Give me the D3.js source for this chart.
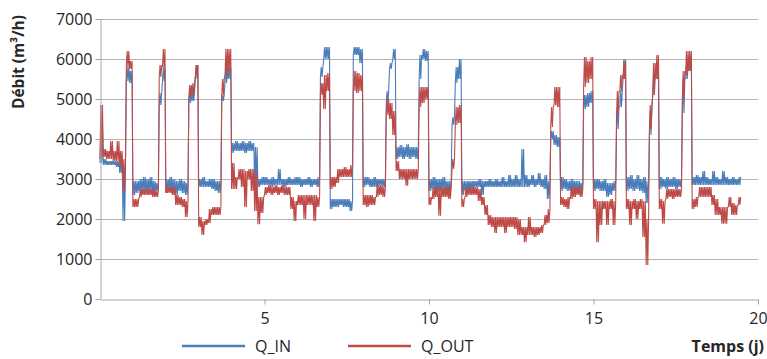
<!DOCTYPE html>
<html><head><meta charset="utf-8">
<script src="https://cdn.jsdelivr.net/npm/d3@7"></script>
<style>body{margin:0;background:#fff}svg{display:block}</style>
</head><body>
<svg id="chart" width="767" height="359"></svg>
<script>
// time bins (days): bin i starts at binStart + i*binStep; each bin stores min/max flow
const binStart = 0, binStep = 0.1;
const inLo = [
3400,3350,3350,3350,3350,3300,3150,1950,5450,5400,
2600,2650,2700,2700,2650,2700,2650,2700,4850,5450,
2650,2700,2650,2600,2700,2650,2600,4900,4950,5500,
2800,2800,2800,2800,2750,2700,2650,4950,5400,5500,
3650,3700,3700,3700,3650,3700,3700,2850,2800,2850,
2850,2850,2800,2850,2850,2850,2800,2850,2850,2850,
2850,2800,2850,2850,2800,2850,2800,5550,6000,6000,
2250,2300,2300,2350,2300,2300,2200,6100,6100,5900,
2800,2850,2800,2800,2800,2850,2800,4900,5750,6000,
3500,3550,3500,3550,3500,3550,3500,5500,6000,5950,
2700,2750,2700,2700,2750,2700,2650,4350,5400,5500,
2600,2700,2750,2750,2800,2800,2600,2800,2800,2800,
2800,2800,2800,2800,2800,2800,2800,2800,2800,2800,
2800,2850,2800,2850,2800,2750,2500,4000,3850,3800,
2700,2750,2700,2700,2700,2650,2700,4750,4800,4900,
2700,2750,2700,2700,2550,2600,2700,4250,4800,5500,
2700,2750,2700,2750,2700,2650,2400,4100,5100,5500,
2750,2800,2750,2800,2800,2750,2800,4650,5500,5700,
2850,2850,2850,2850,2850,2850,2850,2850,2850,2850,
2850,2850,2850,2850,2850];
const inHi = [
4300,3500,3450,3450,3450,3450,3400,3300,5800,5700,
2950,2950,3000,3050,3000,3050,2950,2900,5150,5800,
3000,3050,3000,2950,3000,2950,2900,5150,5200,5850,
3000,3050,2950,3000,3000,2950,2950,5100,5800,5800,
3900,3950,3900,3950,3900,3950,3900,3800,3000,3050,
3050,3000,3050,3000,3250,3000,3000,3050,3000,3050,
3050,3000,3000,3050,3000,3000,3050,5800,6300,6300,
2500,2500,2500,2500,2500,2500,2450,6300,6300,6250,
3050,3050,3000,3050,3000,3000,3000,5200,5900,6250,
3800,3850,3800,3870,3800,3800,3800,6100,6250,6200,
3000,3050,3000,3000,3050,2950,2950,4550,5800,6000,
2950,2950,2950,2950,2950,3000,2950,2950,3000,2950,
3000,2950,3050,2950,3100,3000,3100,3000,3750,3100,
3000,3100,3000,3150,3000,3100,2950,4200,4100,4050,
3050,3000,2950,3000,2950,2950,2900,5100,5150,5200,
3000,3000,2950,3000,2900,2900,2950,4800,5200,6000,
3050,3100,3000,3100,3000,3050,2950,4700,5600,5900,
3050,3000,3050,3000,3050,3000,3000,5500,5850,5900,
3050,3100,3050,3200,3050,3000,3200,3050,3000,3200,
3050,3000,3050,3000,3050];
const outLo = [
3500,3550,3500,3500,3450,3450,3300,2700,5800,5750,
2300,2300,2550,2600,2600,2600,2550,2550,5550,5800,
2650,2650,2600,2350,2350,2300,2050,5050,5100,5600,
1800,1600,1850,1900,2100,2100,2100,5100,5600,5700,
2750,2750,3000,2800,2300,3000,2700,2200,1870,2150,
2600,2650,2600,2650,2600,2650,2600,2600,2250,1950,
2350,2350,2000,2350,2350,1950,2300,5100,4750,5200,
2750,2800,2900,3050,3050,3050,3050,5200,5150,5200,
2350,2300,2350,2350,2550,2600,2550,4600,4500,4100,
3200,3000,3000,2830,3000,3000,3000,4800,4900,5000,
2350,2500,2550,2080,2550,2550,2500,3250,4350,4400,
2300,2550,2600,2600,2600,2450,2350,2100,1850,1800,
1650,1800,1800,1650,1800,1800,1750,1600,1600,1420,
1600,1600,1550,1600,1650,1850,1900,4300,4850,4800,
2350,2300,2250,2500,2550,2600,2550,5300,5400,5500,
2250,1420,1850,2250,1850,2250,1850,4600,5200,5500,
2250,1850,2250,2000,2250,1550,850,4250,5100,5500,
2250,1880,2500,2550,2500,2550,2550,5000,5600,5700,
2250,2300,2550,2550,2550,2550,2350,2100,2100,1880,
1880,2300,2100,2100,2350];
const outHi = [
4850,3750,3700,3950,3700,3950,3700,3500,6200,5950,
2500,2500,2750,2750,2750,2750,2750,2700,5850,6250,
2800,2800,2800,2600,2550,2500,2450,5350,5400,5850,
2050,1950,2000,2250,2300,2300,2300,5500,6250,6250,
3400,3050,3250,3250,3200,3250,3250,3150,2550,2550,
2800,2850,2800,2850,2800,2850,2800,2800,2550,2450,
2600,2600,2600,2600,2600,2600,2550,5400,5600,5650,
3050,3050,3250,3250,3300,3250,3350,5700,5650,5600,
2600,2600,2600,2550,2850,2850,2800,5000,4900,4700,
3450,3250,3250,3250,3250,3250,3250,5300,5300,5300,
2550,2800,2800,2800,2800,2800,2800,3500,4800,4850,
2500,2800,2800,2800,2800,2750,2550,2350,2100,2050,
2050,2050,2050,2050,2050,2050,2050,2000,1800,1800,
2050,1800,1800,1800,1850,2100,2250,4800,5300,5300,
2550,2500,2550,2800,2800,2800,2750,6050,5950,6050,
2500,2450,2450,2450,2450,2500,2450,5200,5600,5950,
2500,2450,2500,2450,2500,2450,2000,4850,5900,6100,
2500,2450,2750,2750,2750,2750,2750,5700,6200,6200,
2500,2550,2800,2800,2800,2800,2600,2500,2300,2300,
2300,2550,2400,2350,2550];

const xTicks = [5, 10, 15, 20];
const yTicks = [0, 1000, 2000, 3000, 4000, 5000, 6000, 7000];
const seriesNames = ["Q_IN", "Q_OUT"];
const seriesColors = ["#4A7EBB", "#BE4B48"];
const xTitle = "Temps (j)";
const yTitle = "Débit (m³/h)";

const svg = d3.select("#chart");
const font = "'Open Sans', 'DejaVu Sans', sans-serif";
const x = d3.scaleLinear().domain([0, 20]).range([100, 758]);
const y = d3.scaleLinear().domain([0, 7000]).range([299, 19]);

// gridlines
svg.append("g").selectAll("line").data(yTicks.filter(v => v > 0)).join("line")
  .attr("x1", x(0)).attr("x2", x(20))
  .attr("y1", d => Math.round(y(d)) + 0.5).attr("y2", d => Math.round(y(d)) + 0.5)
  .attr("stroke", "#b4b4b4").attr("stroke-width", 1);

// series: each bin's min/max envelope is drawn as a dense oscillation between its min and max
function envelopePath(lo, hi) {
  const pts = [];
  const q = binStep / 4;
  lo.forEach((v, i) => {
    const t = binStart + i * binStep;
    pts.push([t, v], [t + q, hi[i]], [t + 2 * q, v], [t + 3 * q, hi[i]]);
  });
  return pts;
}
const line = d3.line().x(d => x(d[0])).y(d => y(d[1]));
const series = [envelopePath(inLo, inHi), envelopePath(outLo, outHi)];
svg.append("g").selectAll("path").data(series).join("path")
  .attr("d", line).attr("fill", "none")
  .attr("stroke", (d, i) => seriesColors[i]).attr("stroke-width", 1.1)
  .attr("stroke-linejoin", "bevel");

// axes
const ya = svg.append("g").attr("transform", "translate(100.5,0)")
  .call(d3.axisLeft(y).tickValues(yTicks).tickSize(5).tickSizeOuter(0).tickPadding(3).tickFormat(d3.format("d")));
const xa = svg.append("g").attr("transform", "translate(0,299.5)")
  .call(d3.axisBottom(x).tickValues(xTicks).tickSize(5).tickSizeOuter(0).tickPadding(8));
[ya, xa].forEach(a => {
  a.select(".domain").attr("stroke", "#a6a6a6");
  a.selectAll(".tick line").attr("stroke", "#a6a6a6");
  a.selectAll("text").attr("font-family", font).attr("font-size", 16).attr("fill", "#262626");
});

// titles
svg.append("text").attr("transform", "translate(24,62) rotate(-90)")
  .attr("text-anchor", "middle").attr("font-family", font).attr("font-weight", "bold")
  .attr("font-size", 15.5).attr("fill", "#262626").text(yTitle);
svg.append("text").attr("x", 764).attr("y", 352).attr("text-anchor", "end")
  .attr("font-family", font).attr("font-weight", "bold").attr("font-size", 16)
  .attr("fill", "#262626").text(xTitle);

// legend
const legX = [182, 348];
const lg = svg.append("g").selectAll("g").data(seriesNames).join("g")
  .attr("transform", (d, i) => `translate(${legX[i]},346)`);
lg.append("line").attr("x1", 0).attr("x2", 63).attr("y1", 0).attr("y2", 0)
  .attr("stroke", (d, i) => seriesColors[i]).attr("stroke-width", 2.5);
lg.append("text").attr("x", 73).attr("y", 6).attr("font-family", font).attr("font-size", 16)
  .attr("fill", "#262626").text(d => d);
</script>
</body></html>
